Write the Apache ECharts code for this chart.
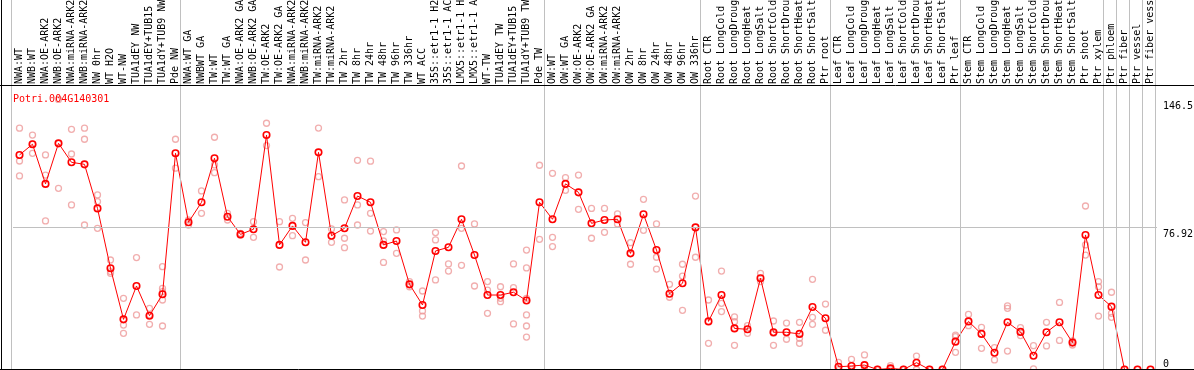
<!DOCTYPE html>
<html>
<head>
<meta charset="utf-8">
<script src="https://cdn.jsdelivr.net/npm/echarts@6/dist/echarts.min.js"></script>
<style>
html,body{margin:0;padding:0;background:#fff;}
#chart{width:1194px;height:370px;}
</style>
</head>
<body>
<div id="chart"></div>
<script>
const geneTitle = "Potri.004G140301";

const categories = [
  "NWA:WT","NWB:WT","NWA:OE-ARK2","NWB:OE-ARK2","NWA:miRNA-ARK2","NWB:miRNA-ARK2","NW 0hr","WT H2O","WT-NW","TUA1dEY NW","TUA1dEY+TUB15 NW","TUA1dY+TUB9 NW","Pde NW",
  "NWA:WT GA","NWBWT GA","TW:WT","TW:WT GA","NWA:OE-ARK2 GA","NWB:OE-ARK2 GA","TW:OE-ARK2","TW:OE-ARK2 GA","NWA:miRNA-ARK2","NWB:miRNA-ARK2","TW:miRNA-ARK2","TW:miRNA-ARK2",
  "TW 2hr","TW 8hr","TW 24hr","TW 48hr","TW 96hr","TW 336hr","WT ACC","35S::etr1-1 H2O","35S::etr1-1 ACC","LMX5::etr1-1 H2O","LMX5::etr1-1 ACC","WT-TW","TUA1dEY TW","TUA1dEY+TUB15 TW","TUA1dY+TUB9 TW","Pde TW",
  "OW:WT","OW:WT GA","OW:OE-ARK2","OW:OE-ARK2 GA","OW:miRNA-ARK2","OW:miRNA-ARK2","OW 2hr","OW 8hr","OW 24hr","OW 48hr","OW 96hr","OW 336hr",
  "Root CTR","Root LongCold","Root LongDrought","Root LongHeat","Root LongSalt","Root ShortCold","Root ShortDrought","Root ShortHeat","Root ShortSalt","Ptr root",
  "Leaf CTR","Leaf LongCold","Leaf LongDrought","Leaf LongHeat","Leaf LongSalt","Leaf ShortCold","Leaf ShortDrought","Leaf ShortHeat","Leaf ShortSalt","Ptr leaf",
  "Stem CTR","Stem LongCold","Stem LongDrought","Stem LongHeat","Stem LongSalt","Stem ShortCold","Stem ShortDrought","Stem ShortHeat","Stem ShortSalt","Ptr shoot","Ptr xylem",
  "Ptr phloem","Ptr fiber","Ptr vessel","Ptr fiber vessel"
];

// number of categories in each separated group
const groupSizes = [13, 28, 12, 10, 10, 11, 1, 1, 1, 1];

const means = [
  116.4,122.2,100.7,122.7,112.4,111.3,87.4,54.9,27.2,45.3,29.2,40.8,117.3,
  79.9,90.7,114.6,82.9,73.3,76.1,127.2,67.6,77.9,69.0,117.8,72.6,
  76.6,94.1,90.7,67.6,69.7,46.2,35.0,64.3,66.3,81.5,62.1,40.4,40.4,41.9,37.4,90.7,
  81.5,100.7,96.1,79.3,81.1,81.5,63.0,84.2,64.8,41.1,46.8,77.1,
  26.1,40.4,22.3,21.8,49.5,20.2,20.2,19.3,33.9,27.8,
  1.5,1.9,2.4,0,0.6,0,3.7,0,0,15.1,
  26.1,19.3,9.1,25.6,20.4,7.5,20.2,25.6,14.6,73.0,40.4,
  34.1,0,0,0
];

const replicates = [
  [130.9,113.1,105.0],[127.2,122.2,117.3],[116.4,105.5,80.6],[146.5,122.7,98.3],[130.3,116.9,89.3],
  [130.9,124.9,78.4],[94.7,91.1,76.6],[59.4,53.1,52.2],[38.6,24.1,19.6],[60.7,29.6],
  [33.2,29.6,24.5],[55.8,44.0,42.2,37.7,23.6],[124.9,109.2],
  [81.1,78.4],[96.9,84.7],[126.0,111.0,106.8],[84.7,81.1],[73.9,73.0],[80.2,71.7],
  [133.6,121.5],[80.2,55.6],[82.0,72.6],[79.7,59.4],[131.0,104.6],[76.3,69.0],
  [92.0,71.2,66.1],[113.5,89.3,78.4],[113.0,84.7,75.1],[74.8,69.7,58.1],[75.7,63.0],
  [47.7,44.9],[42.6,31.8,29.0],[74.3,70.3,48.6],[57.3,53.4],[110.4,76.6,56.5],
  [79.0,45.3],[47.7,43.1,30.5],[44.9,38.6,36.8],[57.3,44.4,24.7],
  [64.8,55.1,38.6,29.6,23.6,17.6],[110.8,70.6],
  [106.4,71.7,66.7],[104.1,97.2],[105.5,86.9],[87.4,71.2],[87.4,74.4],[84.4,79.0],
  [68.8,57.1],[92.3,75.5],[79.0,60.9,54.5],[46.2,39.2],[57.1,50.7,32.1],[94.1,60.9],
  [37.7,14.2],[53.4,35.9,31.4],[28.5,25.9,13.1],[23.8,19.6],[52.2,47.7],
  [26.3,19.6,13.1],[25.2,16.4],[25.6,16.9,14.2],[48.9,28.3,24.5],[35.5,21.3],
  [3.9,0],[5.5,0],[7.9,0],[0,0],[2.1,0],[0,0],[7.3,0],[0,0],[0,0],[18.7,17.8,9.3],
  [29.9,23.8],[22.9,11.5],[11.9,5.2],[34.5,33.2,10.0],[22.7,18.4],[12.9,0.3],
  [25.6,12.8],[36.4,15.8],[15.5,13.3],[88.7,67.6,62.1],[47.7,44.9,29.0],
  [41.9,30.5,28.3],[0],[0],[0]
];

const yTickValues = [0, 76.92, 146.5];
const yTickLabels = ["0", "76.92", "146.5"];
const refLineValue = 76.92;
const yMax = 153.8;

// build derived structures
const repPoints = [];
replicates.forEach((arr, i) => arr.forEach(v => repPoints.push([i, v])));
const boundaries = [0];
groupSizes.forEach(s => boundaries.push(boundaries[boundaries.length - 1] + s));

const MONO = "'DejaVu Sans Mono', 'Liberation Mono', monospace";
const chart = echarts.init(document.getElementById('chart'), null, {renderer: 'canvas'});

chart.setOption({
  animation: false,
  backgroundColor: '#ffffff',
  title: {
    text: geneTitle,
    left: 8, top: 89,
    textStyle: {color: '#ff0000', fontSize: 10, fontWeight: 'normal', fontFamily: MONO}
  },
  grid: [
    {left: 13, width: 1144, top: 86, height: 283.5, containLabel: false, outerBoundsMode: 'none'},
    {left: 11.5, width: 1144, top: 0, height: 370, containLabel: false, outerBoundsMode: 'none'}
  ],
  xAxis: [
    {
      gridIndex: 0, type: 'category', data: categories, position: 'top', boundaryGap: true,
      axisLine: {show: false}, axisTick: {show: false}, splitLine: {show: false},
      axisLabel: {interval: 0, rotate: 90, margin: 2, hideOverlap: false, fontFamily: MONO, fontSize: 10, color: '#000'}
    },
    {gridIndex: 1, type: 'value', min: 0, max: categories.length, show: false}
  ],
  yAxis: [
    {
      gridIndex: 0, type: 'value', position: 'right', min: 0, max: yMax,
      axisLine: {show: false}, axisTick: {show: false}, splitLine: {show: false},
      axisLabel: {
        customValues: yTickValues,
        formatter: v => { const k = yTickValues.indexOf(v); return k >= 0 ? yTickLabels[k] : ''; },
        margin: 6, align: 'left', verticalAlign: 'top', verticalAlignMinLabel: 'bottom',
        padding: [2, 0, 0, 0],
        fontFamily: MONO, fontSize: 10, color: '#000'
      }
    },
    {gridIndex: 1, type: 'value', min: 0, max: 1, show: false}
  ],
  graphic: [
    {type: 'line', z: 100, shape: {x1: 1.5, y1: 0, x2: 1.5, y2: 370}, style: {stroke: '#000', lineWidth: 1}},
    {type: 'line', z: 100, shape: {x1: 0, y1: 85.5, x2: 1194, y2: 85.5}, style: {stroke: '#000', lineWidth: 1}},
    {type: 'line', z: 100, shape: {x1: 0, y1: 369.5, x2: 1194, y2: 369.5}, style: {stroke: '#000', lineWidth: 1}}
  ],
  series: [
    {
      type: 'line', xAxisIndex: 1, yAxisIndex: 1, data: [], silent: true, z: 1,
      markLine: {
        silent: true, symbol: ['none', 'none'], label: {show: false},
        lineStyle: {color: '#c0c0c0', width: 1, type: 'solid'},
        data: boundaries.map(b => ({xAxis: b}))
      }
    },
    {
      type: 'scatter', xAxisIndex: 0, yAxisIndex: 0, data: repPoints, z: 2,
      symbol: 'circle', symbolSize: 6,
      itemStyle: {color: 'rgba(255,255,255,0)', borderColor: '#ee9a9a', borderWidth: 1.3},
      markLine: {
        silent: true, symbol: ['none', 'none'], label: {show: false},
        lineStyle: {color: '#c0c0c0', width: 1, type: 'solid'},
        data: [{yAxis: refLineValue}]
      }
    },
    {
      type: 'line', xAxisIndex: 0, yAxisIndex: 0, data: means, z: 3,
      symbol: 'circle', symbolSize: 6.5, showAllSymbol: true,
      lineStyle: {color: '#ff0000', width: 1},
      itemStyle: {color: 'rgba(255,255,255,0)', borderColor: '#ff0000', borderWidth: 1.6}
    }
  ]
});
</script>
</body>
</html>
